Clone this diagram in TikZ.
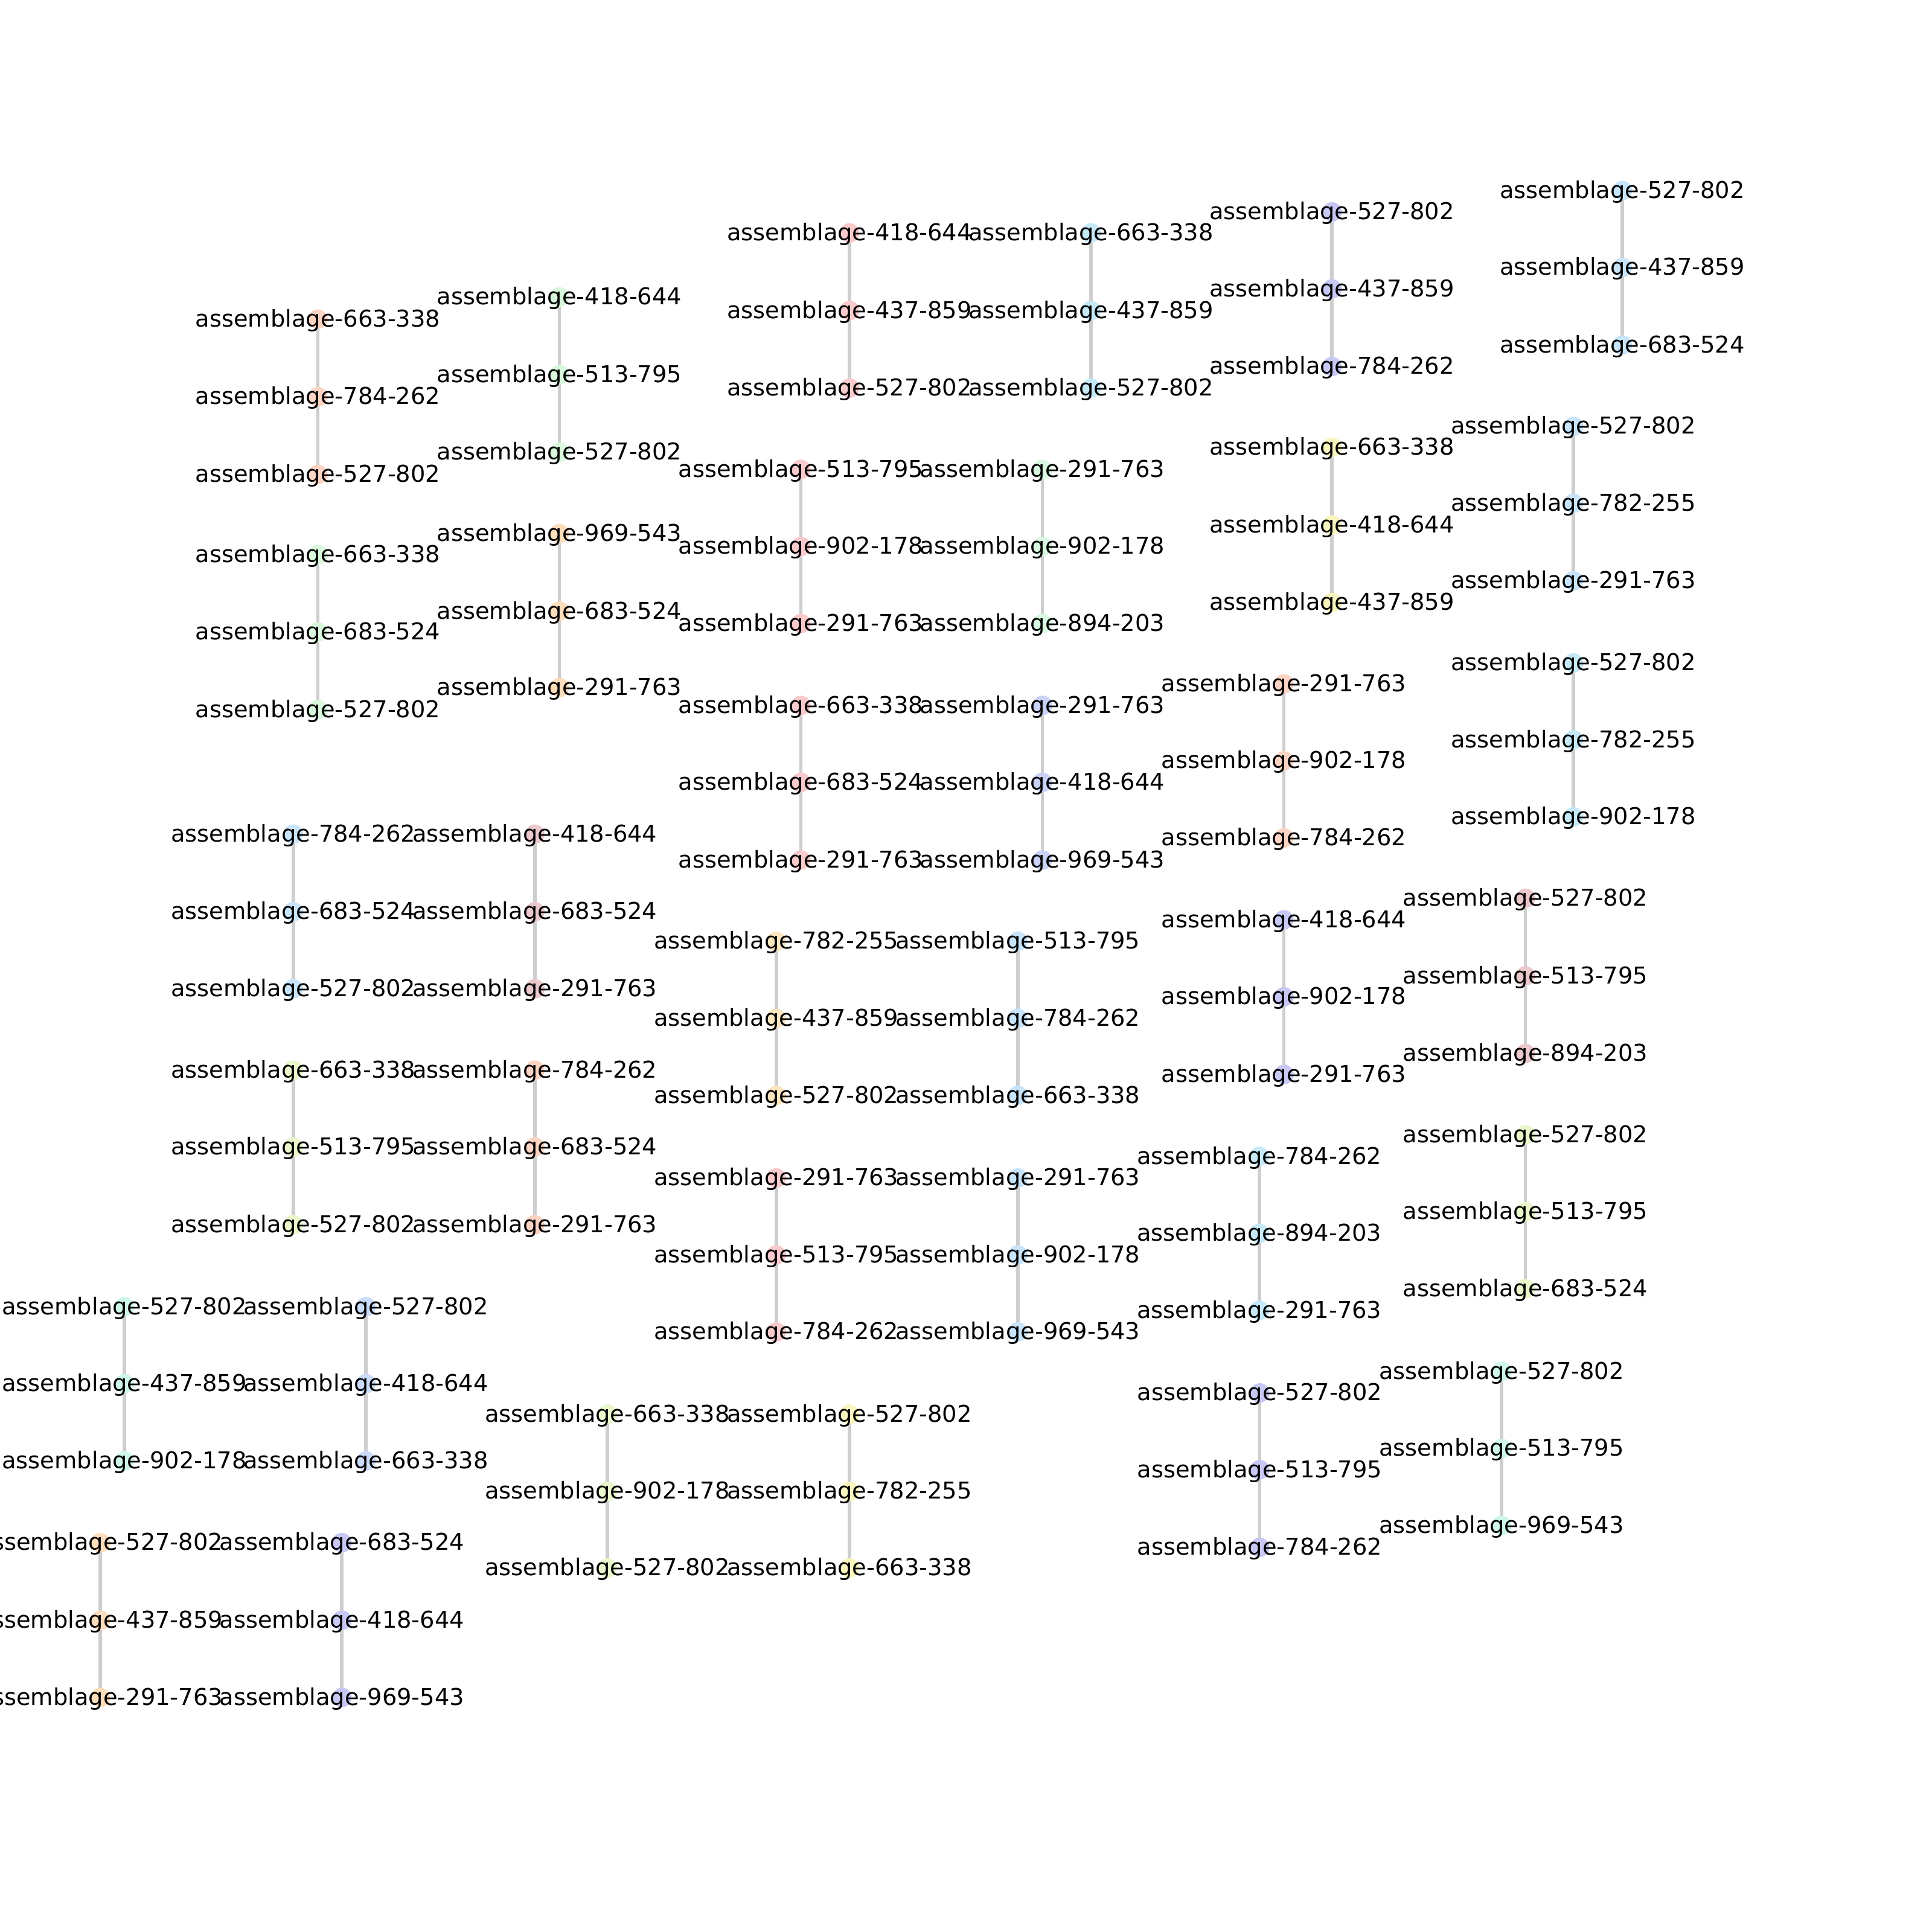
\documentclass[tikz,border=0pt]{standalone}
\usepackage{fontspec}
\setmainfont{DejaVu Sans}
\pgfdeclarelayer{bg}
\pgfsetlayers{bg,main}
\definecolor{lc}{RGB}{206,206,206}
\definecolor{cpeach}{RGB}{251,212,196}
\definecolor{cgreen}{RGB}{218,248,220}
\definecolor{corange}{RGB}{253,222,188}
\definecolor{cpink}{RGB}{248,202,204}
\definecolor{ccyan}{RGB}{198,233,248}
\definecolor{clav}{RGB}{200,200,245}
\definecolor{cblue}{RGB}{200,228,250}
\definecolor{cmint}{RGB}{216,248,226}
\definecolor{cyellow}{RGB}{249,245,190}
\definecolor{cperi}{RGB}{202,210,247}
\definecolor{cdusty}{RGB}{235,200,203}
\definecolor{cygreen}{RGB}{234,247,202}
\definecolor{cporange}{RGB}{252,230,192}
\definecolor{caqua}{RGB}{206,246,234}
\definecolor{cbluish}{RGB}{202,220,249}
\tikzset{
  dot/.style={circle, inner sep=0pt, minimum size=4.5pt, fill=#1, draw=none},
  lab/.style={inner sep=0pt, font=\fontsize{5.35}{6}\selectfont, text=black},
  link/.style={draw=lc, line width=0.8pt},
}
\newcommand\mkchain[9]{%
  \node[dot=#6] (#1a) at (#2,#3) {};
  \node[dot=#6] (#1b) at (#2,#4) {};
  \node[dot=#6] (#1c) at (#2,#5) {};
  \node[lab] (#1ta) at ([yshift=-0.3pt]#1a) {assemblage-#7};
  \node[lab] (#1tb) at ([yshift=-0.3pt]#1b) {assemblage-#8};
  \node[lab] (#1tc) at ([yshift=-0.3pt]#1c) {assemblage-#9};
  \begin{pgfonlayer}{bg}
    \draw[link] (#1a.center) -- (#1b.center) -- (#1c.center);
  \end{pgfonlayer}
}
\begin{document}
\begin{tikzpicture}[x=0.01cm, y=-0.01cm]
\useasboundingbox (0,0) rectangle (1568,1568);
\begin{pgfonlayer}{bg}
\fill[white] (0,0) rectangle (1568,1568);
\end{pgfonlayer}
\mkchain{c1}{258}{259}{322}{385}{cpeach}{663-338}{784-262}{527-802}
\mkchain{c2}{258}{450}{513}{576}{cgreen}{663-338}{683-524}{527-802}
\mkchain{c3}{454}{241}{304}{367}{cgreen}{418-644}{513-795}{527-802}
\mkchain{c4}{454}{433}{496}{558}{corange}{969-543}{683-524}{291-763}
\mkchain{c5}{689.5}{189}{252}{315}{cpink}{418-644}{437-859}{527-802}
\mkchain{c6}{885.4}{189}{252}{315}{ccyan}{663-338}{437-859}{527-802}
\mkchain{c7}{1081}{172}{234.5}{297.5}{clav}{527-802}{437-859}{784-262}
\mkchain{c8}{1316.6}{154.6}{217}{280}{cblue}{527-802}{437-859}{683-524}
\mkchain{c9}{650}{381}{443.5}{506}{cpink}{513-795}{902-178}{291-763}
\mkchain{c10}{846}{381}{443.5}{506}{cmint}{291-763}{902-178}{894-203}
\mkchain{c11}{1081}{363}{426}{489}{cyellow}{663-338}{418-644}{437-859}
\mkchain{c12}{1277}{346}{408.5}{471.4}{cblue}{527-802}{782-255}{291-763}
\mkchain{c13}{1277}{538}{600.5}{663}{ccyan}{527-802}{782-255}{902-178}
\mkchain{c14}{650}{572.5}{635}{698}{cpink}{663-338}{683-524}{291-763}
\mkchain{c15}{846}{572.5}{635}{698}{cperi}{291-763}{418-644}{969-543}
\mkchain{c16}{1042}{555}{617.5}{680}{cpeach}{291-763}{902-178}{784-262}
\mkchain{c17}{238}{677}{740}{802.5}{cblue}{784-262}{683-524}{527-802}
\mkchain{c18}{434}{677}{740}{802.5}{cdusty}{418-644}{683-524}{291-763}
\mkchain{c19}{238}{868.5}{931}{994}{cygreen}{663-338}{513-795}{527-802}
\mkchain{c20}{434}{868.5}{931}{994}{cpeach}{784-262}{683-524}{291-763}
\mkchain{c21}{630}{764}{826.5}{889}{cporange}{782-255}{437-859}{527-802}
\mkchain{c22}{826}{764}{826.5}{889}{cblue}{513-795}{784-262}{663-338}
\mkchain{c23}{1042}{746.5}{809}{872}{clav}{418-644}{902-178}{291-763}
\mkchain{c24}{1238}{729}{792}{855}{cdusty}{527-802}{513-795}{894-203}
\mkchain{c25}{630}{956}{1018.5}{1081}{cpink}{291-763}{513-795}{784-262}
\mkchain{c26}{826}{956}{1018.5}{1081}{cblue}{291-763}{902-178}{969-543}
\mkchain{c27}{1022}{938.5}{1001}{1063.5}{ccyan}{784-262}{894-203}{291-763}
\mkchain{c28}{1238}{921}{983.5}{1046}{cygreen}{527-802}{513-795}{683-524}
\mkchain{c29}{101}{1060.5}{1123}{1185.7}{caqua}{527-802}{437-859}{902-178}
\mkchain{c30}{297}{1060.5}{1123}{1185.7}{cbluish}{527-802}{418-644}{663-338}
\mkchain{c31}{81.5}{1252}{1315}{1377.7}{corange}{527-802}{437-859}{291-763}
\mkchain{c32}{277.5}{1252}{1315}{1377.7}{clav}{683-524}{418-644}{969-543}
\mkchain{c33}{493}{1147.7}{1210.4}{1272.6}{cygreen}{663-338}{902-178}{527-802}
\mkchain{c34}{689.5}{1147.7}{1210.4}{1272.6}{cyellow}{527-802}{782-255}{663-338}
\mkchain{c35}{1022.4}{1130.5}{1192.8}{1255.8}{clav}{527-802}{513-795}{784-262}
\mkchain{c36}{1218.7}{1113}{1175.6}{1238}{caqua}{527-802}{513-795}{969-543}
\end{tikzpicture}
\end{document}
